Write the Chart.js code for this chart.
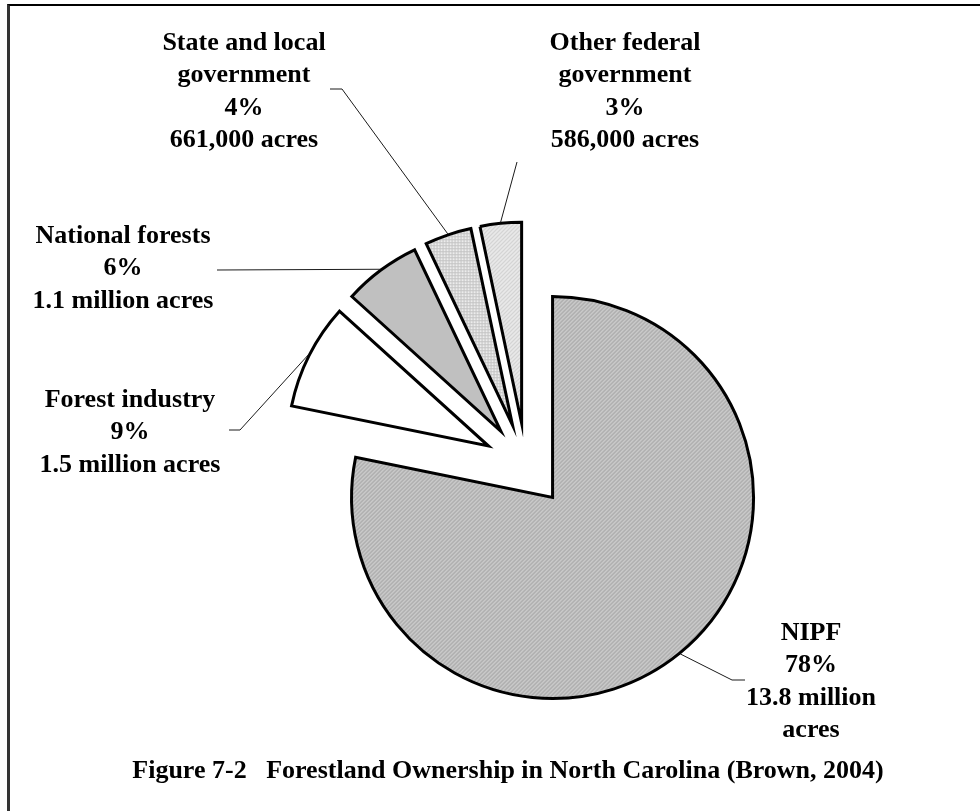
<!DOCTYPE html>
<html>
<head>
<meta charset="utf-8">
<title>Forestland Ownership in North Carolina</title>
<script src="https://cdn.jsdelivr.net/npm/chart.js@4.4.0/dist/chart.umd.min.js"></script>
<style>
  html, body { margin: 0; padding: 0; background: #fff; }
  #wrap { position: relative; width: 980px; height: 811px; overflow: hidden; }
  #frame { position: absolute; left: 7px; top: 4px; right: -4px; bottom: -4px;
           border-left: 3px solid #333; border-top: 2px solid #000; }
  #chart { position: absolute; left: 0; top: 0; }
</style>
</head>
<body>
<div id="wrap">
  <div id="frame"></div>
  <canvas id="chart" width="980" height="811"></canvas>
</div>
<script>
// forestland by owner, thousand acres (Brown, 2004)
const owners = ['NIPF', 'Forest industry', 'National forests', 'State and local government', 'Other federal government'];
const acres = [13800, 1500, 1100, 661, 586];
const pctLabels = ['78%', '9%', '6%', '4%', '3%'];
const acreLabels = ['13.8 million acres', '1.5 million acres', '1.1 million acres', '661,000 acres', '586,000 acres'];
const figTitle = 'Figure 7-2\u00a0\u00a0\u00a0Forestland Ownership in North Carolina (Brown, 2004)';

const FONT = 'bold 26px "Liberation Serif", "Times New Roman", serif';
const LINE_H = 32.4;
const EXPLODE = 42;

// where each label sits: text centre x, first baseline, wrap width, leader path after the slice edge
const labelLayout = [
  { x: 811, y: 640, wrap: 170, leader: [[732, 680], [745, 680]] },
  { x: 130, y: 407, wrap: 200, leader: [[240, 430], [229, 430]] },
  { x: 123, y: 243, wrap: 200, leader: [[217, 270]] },
  { x: 244, y: 50,  wrap: 170, leader: [[342, 89], [330, 89]] },
  { x: 625, y: 50,  wrap: 170, leader: [[517, 162]] },
];

const cvs = document.getElementById('chart');
const base = cvs.getContext('2d');

function tile(size, bg, fg, dots) {
  const c = document.createElement('canvas');
  c.width = c.height = size;
  const g = c.getContext('2d');
  g.fillStyle = bg;
  g.fillRect(0, 0, size, size);
  g.fillStyle = fg;
  dots.forEach(([x, y]) => g.fillRect(x, y, 1, 1));
  return base.createPattern(c, 'repeat');
}

const fills = [
  tile(4, '#c9c9c9', '#969696', [[0, 3], [1, 2], [2, 1], [3, 0]]),
  '#ffffff',
  '#c0c0c0',
  tile(3, '#ececec', '#c4c4c4', [[0, 0], [1, 0], [2, 0], [0, 1], [0, 2]]),
  tile(4, '#e9e9e9', '#c6c6c6', [[0, 3], [1, 2], [2, 1], [3, 0]]),
];

function wrapText(ctx, text, width) {
  const words = text.split(' ');
  const lines = [];
  let cur = '';
  words.forEach(w => {
    const test = cur ? cur + ' ' + w : w;
    if (cur && ctx.measureText(test).width > width) { lines.push(cur); cur = w; }
    else cur = test;
  });
  if (cur) lines.push(cur);
  return lines;
}

// pull every slice out along its bisector, then let the arc draw itself
const explodePlugin = {
  id: 'explode',
  beforeDatasetDraw(chart, args) {
    const ctx = chart.ctx;
    args.meta.data.forEach(arc => {
      const mid = (arc.startAngle + arc.endAngle) / 2;
      ctx.save();
      ctx.translate(Math.cos(mid) * EXPLODE, Math.sin(mid) * EXPLODE);
      arc.draw(ctx);
      ctx.restore();
    });
    return false;
  }
};

const labelPlugin = {
  id: 'sliceLabels',
  afterDraw(chart) {
    const ctx = chart.ctx;
    const arcs = chart.getDatasetMeta(0).data;
    ctx.save();
    ctx.font = FONT;
    ctx.fillStyle = '#000';
    ctx.textAlign = 'center';
    ctx.textBaseline = 'alphabetic';

    arcs.forEach((arc, i) => {
      const lay = labelLayout[i];
      const mid = (arc.startAngle + arc.endAngle) / 2;
      const r = arc.outerRadius + 1;
      const ex = arc.x + Math.cos(mid) * (EXPLODE + r);
      const ey = arc.y + Math.sin(mid) * (EXPLODE + r);

      ctx.strokeStyle = '#1a1a1a';
      ctx.lineWidth = 1;
      ctx.beginPath();
      ctx.moveTo(ex, ey);
      lay.leader.forEach(([px, py]) => ctx.lineTo(px, py));
      ctx.stroke();

      const lines = [
        ...wrapText(ctx, owners[i], lay.wrap),
        pctLabels[i],
        ...wrapText(ctx, acreLabels[i], lay.wrap),
      ];
      lines.forEach((t, k) => ctx.fillText(t, lay.x, lay.y + k * LINE_H));
    });

    ctx.fillText(figTitle, 508, 778);
    ctx.restore();
  }
};

new Chart(cvs, {
  type: 'pie',
  data: {
    labels: owners,
    datasets: [{
      data: acres,
      backgroundColor: fills,
      borderColor: '#000',
      borderWidth: 3,
      borderJoinStyle: 'miter',
    }]
  },
  options: {
    responsive: false,
    animation: false,
    events: [],
    radius: 201,
    layout: { padding: { left: 100, right: 28, top: 138, bottom: 19 } },
    plugins: {
      legend: { display: false },
      tooltip: { enabled: false },
    },
  },
  plugins: [explodePlugin, labelPlugin],
});
</script>
</body>
</html>
